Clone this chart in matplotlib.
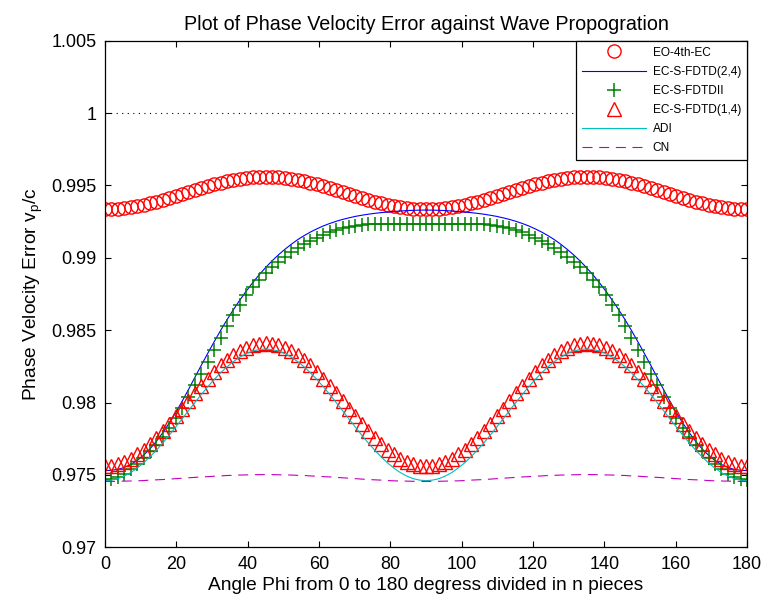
import numpy as np
import matplotlib
matplotlib.use('Agg')
import matplotlib.pyplot as plt

# angle axis: 0..180 degrees in 100 pieces
phi = np.linspace(0, 180, 101)

# values
eo_4th_ec = [
    0.99336, 0.99337, 0.99340, 0.99344, 0.99350, 0.99357, 0.99366, 0.99377, 0.99388, 0.99400,
    0.99413, 0.99427, 0.99441, 0.99455, 0.99469, 0.99483, 0.99496, 0.99508, 0.99519, 0.99530,
    0.99539, 0.99546, 0.99552, 0.99556, 0.99559, 0.99560, 0.99559, 0.99556, 0.99552, 0.99546,
    0.99539, 0.99530, 0.99519, 0.99508, 0.99496, 0.99483, 0.99469, 0.99455, 0.99441, 0.99427,
    0.99413, 0.99400, 0.99388, 0.99377, 0.99366, 0.99357, 0.99350, 0.99344, 0.99340, 0.99337,
    0.99336, 0.99337, 0.99340, 0.99344, 0.99350, 0.99357, 0.99366, 0.99377, 0.99388, 0.99400,
    0.99413, 0.99427, 0.99441, 0.99455, 0.99469, 0.99483, 0.99496, 0.99508, 0.99519, 0.99530,
    0.99539, 0.99546, 0.99552, 0.99556, 0.99559, 0.99560, 0.99559, 0.99556, 0.99552, 0.99546,
    0.99539, 0.99530, 0.99519, 0.99508, 0.99496, 0.99483, 0.99469, 0.99455, 0.99441, 0.99427,
    0.99413, 0.99400, 0.99388, 0.99377, 0.99366, 0.99357, 0.99350, 0.99344, 0.99340, 0.99337,
    0.99336,
]

ec_s_fdtd_24 = [
    0.97530, 0.97532, 0.97538, 0.97552, 0.97572, 0.97600, 0.97636, 0.97680, 0.97732, 0.97792,
    0.97858, 0.97930, 0.98008, 0.98090, 0.98174, 0.98258, 0.98340, 0.98420, 0.98498, 0.98572,
    0.98642, 0.98708, 0.98770, 0.98828, 0.98882, 0.98932, 0.98978, 0.99020, 0.99058, 0.99093,
    0.99125, 0.99153, 0.99178, 0.99200, 0.99220, 0.99237, 0.99252, 0.99265, 0.99276, 0.99286,
    0.99294, 0.99301, 0.99307, 0.99312, 0.99316, 0.99320, 0.99323, 0.99326, 0.99328, 0.99329,
    0.99330, 0.99329, 0.99328, 0.99326, 0.99323, 0.99320, 0.99316, 0.99312, 0.99307, 0.99301,
    0.99294, 0.99286, 0.99276, 0.99265, 0.99252, 0.99237, 0.99220, 0.99200, 0.99178, 0.99153,
    0.99125, 0.99093, 0.99058, 0.99020, 0.98978, 0.98932, 0.98882, 0.98828, 0.98770, 0.98708,
    0.98642, 0.98572, 0.98498, 0.98420, 0.98340, 0.98258, 0.98174, 0.98090, 0.98008, 0.97930,
    0.97858, 0.97792, 0.97732, 0.97680, 0.97636, 0.97600, 0.97572, 0.97552, 0.97538, 0.97532,
    0.97530,
]

ec_s_fdtd_ii = [
    0.97465, 0.97470, 0.97485, 0.97508, 0.97538, 0.97575, 0.97618, 0.97662, 0.97708, 0.97763,
    0.97825, 0.97895, 0.97965, 0.98040, 0.98118, 0.98200, 0.98282, 0.98365, 0.98448, 0.98528,
    0.98604, 0.98675, 0.98740, 0.98798, 0.98848, 0.98893, 0.98935, 0.98972, 0.99006, 0.99038,
    0.99067, 0.99094, 0.99118, 0.99140, 0.99160, 0.99177, 0.99192, 0.99205, 0.99215, 0.99223,
    0.99229, 0.99233, 0.99235, 0.99235, 0.99235, 0.99235, 0.99235, 0.99235, 0.99235, 0.99235,
    0.99235, 0.99235, 0.99235, 0.99235, 0.99235, 0.99235, 0.99235, 0.99235, 0.99235, 0.99233,
    0.99229, 0.99223, 0.99215, 0.99205, 0.99192, 0.99177, 0.99160, 0.99140, 0.99118, 0.99094,
    0.99067, 0.99038, 0.99006, 0.98972, 0.98935, 0.98893, 0.98848, 0.98798, 0.98740, 0.98675,
    0.98604, 0.98528, 0.98448, 0.98365, 0.98282, 0.98200, 0.98118, 0.98040, 0.97965, 0.97895,
    0.97825, 0.97763, 0.97708, 0.97662, 0.97618, 0.97575, 0.97538, 0.97508, 0.97485, 0.97470,
    0.97465,
]

ec_s_fdtd_14 = [
    0.97560, 0.97563, 0.97573, 0.97590, 0.97613, 0.97641, 0.97675, 0.97714, 0.97757, 0.97804,
    0.97854, 0.97905, 0.97958, 0.98012, 0.98065, 0.98116, 0.98166, 0.98213, 0.98256, 0.98295,
    0.98329, 0.98357, 0.98380, 0.98397, 0.98407, 0.98410, 0.98407, 0.98397, 0.98380, 0.98357,
    0.98329, 0.98295, 0.98256, 0.98213, 0.98166, 0.98116, 0.98065, 0.98012, 0.97958, 0.97905,
    0.97854, 0.97804, 0.97757, 0.97714, 0.97675, 0.97641, 0.97613, 0.97590, 0.97573, 0.97563,
    0.97560, 0.97563, 0.97573, 0.97590, 0.97613, 0.97641, 0.97675, 0.97714, 0.97757, 0.97804,
    0.97854, 0.97905, 0.97958, 0.98012, 0.98065, 0.98116, 0.98166, 0.98213, 0.98256, 0.98295,
    0.98329, 0.98357, 0.98380, 0.98397, 0.98407, 0.98410, 0.98407, 0.98397, 0.98380, 0.98357,
    0.98329, 0.98295, 0.98256, 0.98213, 0.98166, 0.98116, 0.98065, 0.98012, 0.97958, 0.97905,
    0.97854, 0.97804, 0.97757, 0.97714, 0.97675, 0.97641, 0.97613, 0.97590, 0.97573, 0.97563,
    0.97560,
]

adi = [
    0.97460, 0.97464, 0.97474, 0.97492, 0.97516, 0.97547, 0.97583, 0.97625, 0.97671, 0.97721,
    0.97774, 0.97830, 0.97886, 0.97944, 0.98000, 0.98056, 0.98109, 0.98159, 0.98205, 0.98247,
    0.98283, 0.98314, 0.98338, 0.98356, 0.98366, 0.98370, 0.98366, 0.98356, 0.98338, 0.98314,
    0.98283, 0.98247, 0.98205, 0.98159, 0.98109, 0.98056, 0.98000, 0.97944, 0.97886, 0.97830,
    0.97774, 0.97721, 0.97671, 0.97625, 0.97583, 0.97547, 0.97516, 0.97492, 0.97474, 0.97464,
    0.97460, 0.97464, 0.97474, 0.97492, 0.97516, 0.97547, 0.97583, 0.97625, 0.97671, 0.97721,
    0.97774, 0.97830, 0.97886, 0.97944, 0.98000, 0.98056, 0.98109, 0.98159, 0.98205, 0.98247,
    0.98283, 0.98314, 0.98338, 0.98356, 0.98366, 0.98370, 0.98366, 0.98356, 0.98338, 0.98314,
    0.98283, 0.98247, 0.98205, 0.98159, 0.98109, 0.98056, 0.98000, 0.97944, 0.97886, 0.97830,
    0.97774, 0.97721, 0.97671, 0.97625, 0.97583, 0.97547, 0.97516, 0.97492, 0.97474, 0.97464,
    0.97460,
]

cn = [
    0.97455, 0.97455, 0.97456, 0.97457, 0.97458, 0.97459, 0.97461, 0.97464, 0.97466, 0.97468,
    0.97471, 0.97474, 0.97477, 0.97480, 0.97483, 0.97486, 0.97488, 0.97491, 0.97493, 0.97496,
    0.97497, 0.97499, 0.97500, 0.97501, 0.97502, 0.97502, 0.97502, 0.97501, 0.97500, 0.97499,
    0.97497, 0.97496, 0.97493, 0.97491, 0.97488, 0.97486, 0.97483, 0.97480, 0.97477, 0.97474,
    0.97471, 0.97468, 0.97466, 0.97464, 0.97461, 0.97459, 0.97458, 0.97457, 0.97456, 0.97455,
    0.97455, 0.97455, 0.97456, 0.97457, 0.97458, 0.97459, 0.97461, 0.97464, 0.97466, 0.97468,
    0.97471, 0.97474, 0.97477, 0.97480, 0.97483, 0.97486, 0.97488, 0.97491, 0.97493, 0.97496,
    0.97497, 0.97499, 0.97500, 0.97501, 0.97502, 0.97502, 0.97502, 0.97501, 0.97500, 0.97499,
    0.97497, 0.97496, 0.97493, 0.97491, 0.97488, 0.97486, 0.97483, 0.97480, 0.97477, 0.97474,
    0.97471, 0.97468, 0.97466, 0.97464, 0.97461, 0.97459, 0.97458, 0.97457, 0.97456, 0.97455,
    0.97455,
]

exact_value = 1.0
x_ticks = [0, 20, 40, 60, 80, 100, 120, 140, 160, 180]
y_ticks = [0.97, 0.975, 0.98, 0.985, 0.99, 0.995, 1.0, 1.005]
y_tick_labels = ['0.97', '0.975', '0.98', '0.985', '0.99', '0.995', '1', '1.005']

plt.rcParams['font.family'] = ['Liberation Sans', 'DejaVu Sans']

fig = plt.figure(figsize=(7.65, 6.06), dpi=100)
ax = fig.add_axes([0.1373, 0.0969, 0.8392, 0.8360])

# old MATLAB colour order
blue = (0, 0, 1)
green = (0, 0.5, 0)
red = (1, 0, 0)
cyan = (0, 0.75, 0.75)
magenta = (0.75, 0, 0.75)

ax.plot(phi, eo_4th_ec, 'o', mfc='none', mec=red, ms=9.5, mew=1.0, label='EO-4th-EC')
ax.plot(phi, ec_s_fdtd_24, '-', color=blue, lw=0.8, label='EC-S-FDTD(2,4)')
ax.plot(phi, ec_s_fdtd_ii, '+', color=green, ms=9.5, mew=1.1, label='EC-S-FDTDII')
ax.plot(phi, ec_s_fdtd_14, '^', mfc='none', mec=red, ms=9.5, mew=1.0, label='EC-S-FDTD(1,4)')
ax.plot(phi, adi, '-', color=cyan, lw=0.8, label='ADI')
ax.plot(phi, cn, '--', color=magenta, lw=0.8, dashes=(9, 6), label='CN')
ax.axhline(exact_value, color='black', lw=0.8, dashes=(1, 4))

ax.set_xlim(0, 180)
ax.set_ylim(0.97, 1.005)
ax.set_xticks(x_ticks)
ax.set_yticks(y_ticks)
ax.set_yticklabels(y_tick_labels)
ax.tick_params(direction='in', top=True, right=True, length=4, width=0.8,
               labelsize=13, pad=6)
for s in ax.spines.values():
    s.set_linewidth(0.9)

ax.set_title('Plot of Phase Velocity Error against Wave Propogration', fontsize=14.2, pad=8)
ax.set_xlabel('Angle Phi from 0 to 180 degress divided in n pieces', fontsize=13.8, labelpad=3)
ax.set_ylabel('Phase Velocity Error v$_\\mathregular{p}$/c', fontsize=13.8, labelpad=5)

leg = ax.legend(loc='upper right', borderaxespad=0, fontsize=8.6, numpoints=1,
                handlelength=5.3, handletextpad=0.6, labelspacing=0.6, borderpad=0.5,
                fancybox=False, framealpha=1, edgecolor='black')
leg.get_frame().set_linewidth(0.9)

fig.savefig('out.png', dpi=100)
